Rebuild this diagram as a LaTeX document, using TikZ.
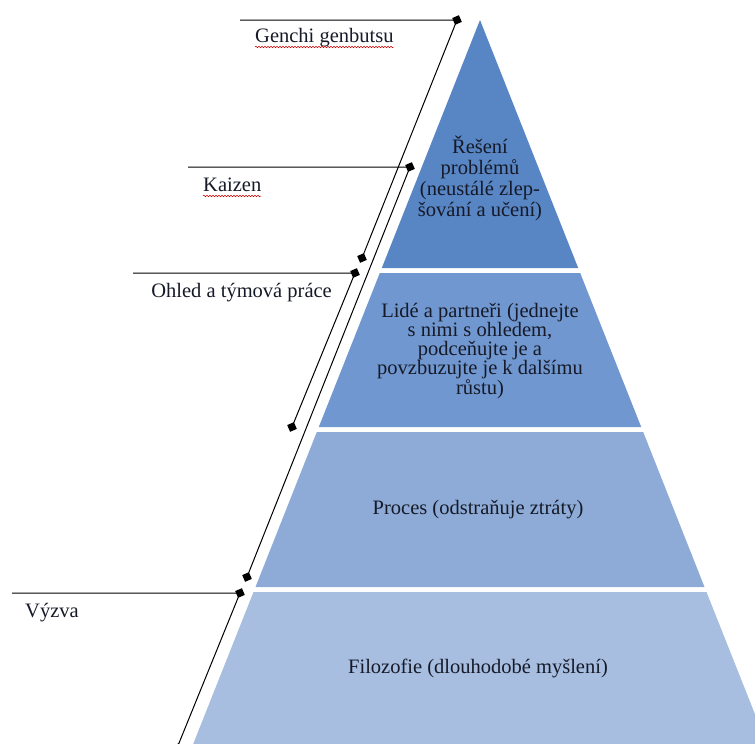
\documentclass[tikz,border=0pt]{standalone}
\usepackage{fontspec}
\setmainfont{Liberation Serif}
\newfontfamily\pyrfont{Liberation Serif}
\usetikzlibrary{arrows.meta,positioning,calc,shapes.geometric,decorations.pathmorphing}

\definecolor{tierA}{RGB}{88,133,196}
\definecolor{tierB}{RGB}{112,151,207}
\definecolor{tierC}{RGB}{141,171,214}
\definecolor{tierD}{RGB}{167,190,224}
\definecolor{txt}{RGB}{22,26,40}

\begin{document}
\begin{tikzpicture}[x=1pt,y=-1pt,
  tiertext/.style={align=center,text=txt,inner sep=0pt,font=\pyrfont\fontsize{20.5}{21}\selectfont},
  lbl/.style={text=txt,inner sep=0pt,font=\pyrfont\fontsize{20.5}{24}\selectfont},
  lead/.style={draw=black,line width=1pt},
  dia/.style={diamond,fill=black,inner sep=0pt,minimum size=10.5pt,rotate=68},
  squiggle/.style={draw=red!80!black,line width=0.5pt,decorate,
    decoration={snake,amplitude=0.8pt,segment length=3pt}}]
\useasboundingbox (0,0) rectangle (755,744);
\clip (0,0) rectangle (755,744);

% pyramid tiers
\fill[tierA] (480,20) -- (578.2,268) -- (381.8,268) -- cycle;
\fill[tierB] (379.8,273) -- (580.2,273) -- (641.2,427) -- (318.8,427) -- cycle;
\fill[tierC] (316.8,432) -- (643.2,432) -- (704.5,587) -- (255.5,587) -- cycle;
\fill[tierD] (253.5,592) -- (706.5,592) -- (770,752) -- (190,752) -- cycle;

\node[tiertext] (tA) at (480,178) {Řešení\\problémů\\(neustálé zlep-\\šování a učení)};
\node[tiertext,font=\pyrfont\fontsize{20.5}{19}\selectfont] (tB) at (480,351)
  {Lidé a partneři (jednejte\\s nimi s ohledem,\\podceňujte je a\\povzbuzujte je k dalšímu\\růstu)};
\node[tiertext] (tC) at (478,510) {Proces (odstraňuje ztráty)};
\node[tiertext] (tD) at (478,668) {Filozofie (dlouhodobé myšlení)};

% labels on the left
\node[lbl,anchor=base west] (lG) at (255,42) {Genchi genbutsu};
\node[lbl,anchor=base west] (lK) at (203,191) {Kaizen};
\node[lbl,anchor=base east] (lO) at (332,297) {Ohled a týmová práce};
\node[lbl,anchor=base west] (lV) at (25,617) {Výzva};
\draw[squiggle] ([yshift=-5pt]lG.base west) -- ([yshift=-5pt]lG.base east);
\draw[squiggle] ([yshift=-5pt]lK.base west) -- ([yshift=-5pt]lK.base east);

% leader lines
\coordinate (g0) at (240,20);
\node[dia] (g1) at (457,20) {};
\node[dia] (g2) at (362,258) {};
\draw[lead] (g0) -- (g1.center) -- (g2.center);

\coordinate (k0) at (188,167);
\node[dia] (k1) at (410,167) {};
\node[dia] (k2) at (247,577) {};
\draw[lead] (k0) -- (k1.center) -- (k2.center);

\coordinate (o0) at (133,273);
\node[dia] (o1) at (355,273) {};
\node[dia] (o2) at (292,427) {};
\draw[lead] (o0) -- (o1.center) -- (o2.center);

\coordinate (v0) at (12,593);
\node[dia] (v1) at (240,593) {};
\node[dia] (v2) at (177,748) {};
\draw[lead] (v0) -- (v1.center) -- (v2.center);
\end{tikzpicture}
\end{document}
